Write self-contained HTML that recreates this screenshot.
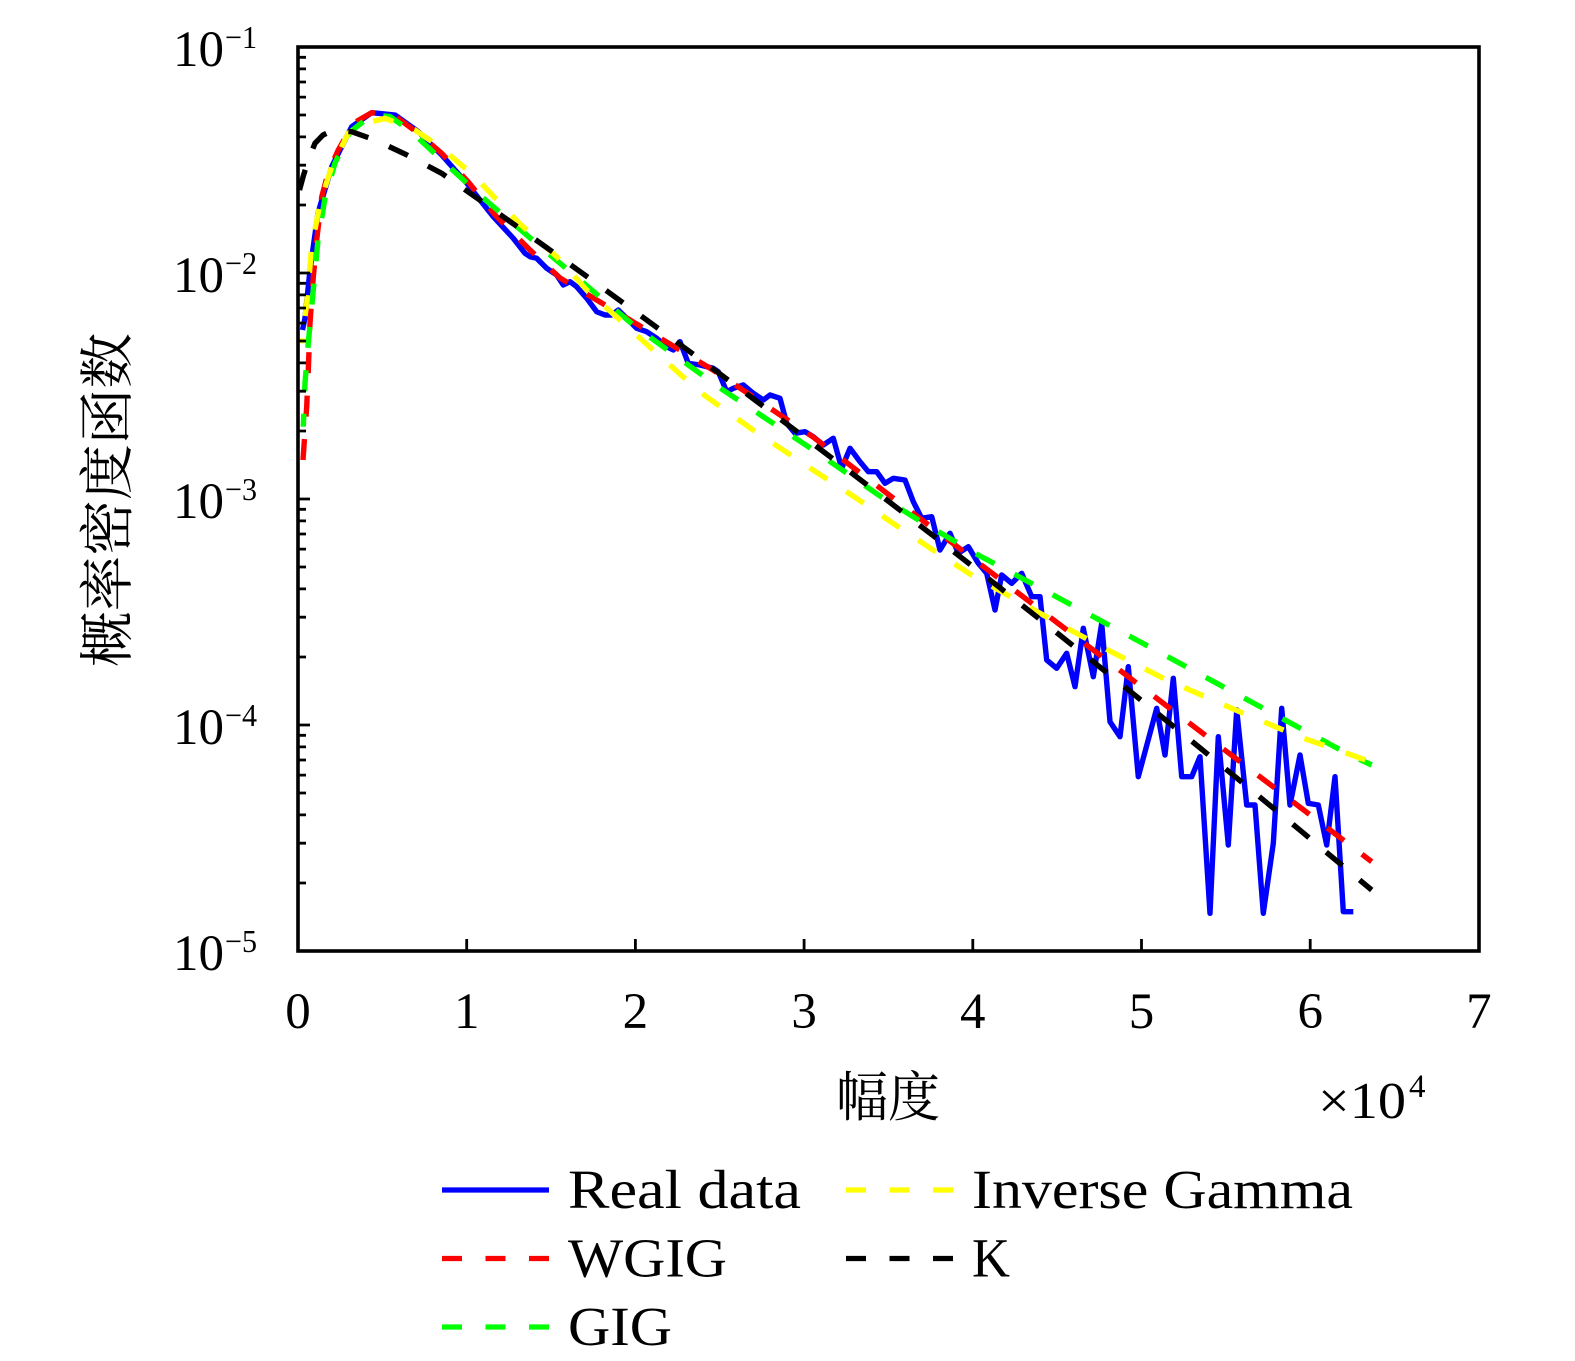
<!DOCTYPE html>
<html>
<head>
<meta charset="utf-8">
<style>
html,body{margin:0;padding:0;background:#fff;}
svg{display:block;}
text{font-family:"Liberation Serif","Noto Serif CJK SC",serif;fill:#000;}
.cjk{font-family:"Liberation Serif","Noto Serif CJK SC","Noto Sans CJK SC",serif;}
</style>
</head>
<body>
<svg width="1575" height="1361" viewBox="0 0 1575 1361" xmlns="http://www.w3.org/2000/svg">
<rect x="0" y="0" width="1575" height="1361" fill="#fff"/>

<!-- data series -->
<g fill="none" stroke-width="5.4">
<polyline stroke="#0000ff" stroke-linejoin="round" points="302.5,330 305,318 310,270 318,213 331.7,166.7 351.7,126.7 371.7,112.7 395,115 418.3,131.7 441.7,155 455,170 468.3,185 480,200 493.3,216.7 513.3,238.3 525,253.3 530,256.7 536.7,258.3 546.7,268.3 556.7,275 563.3,285 570,281.7 576.7,286.7 586.7,298.3 596.7,311.7 605,315 611.7,315 618.3,310 626.7,318.3 636.7,328.3 646.7,331.7 656.7,338.3 666.7,346.7 673.3,350 680,341.7 688.3,363.3 700,365 713.3,368.3 718.3,371.7 726.7,391.7 733.3,388.3 743.3,385 753.3,393.3 763.3,400 770,395 780,398.3 786.7,423.3 795,433.3 805,431.7 813.3,436.7 823.3,445 833.3,438.3 841.7,468.3 850,448.3 860,461.7 868.3,471.7 876.7,471.7 885,483.3 893.3,478.3 900,479.3 905,480 913.3,501.7 921.7,518.3 931.7,516.7 940,550 950,533.3 958.3,553.3 968.3,546.7 978.3,563.3 986.7,573.3 995,610 1001.7,575 1011.7,583.3 1021.7,573.3 1031.7,596.7 1040,596.7 1046.7,660 1056.7,668.3 1066.7,653.3 1075,686.7 1083.3,628.3 1093.3,676.7 1101.7,623.3 1110,721.7 1120,736.7 1128.3,666.7 1138.3,776.7 1156.7,708.3 1165,755 1173.3,678.3 1181.7,776.7 1191.7,776.7 1200,756.7 1210,913.3 1218.3,736.7 1228.3,845 1236.7,710 1246.7,805 1255,805 1263.3,913.3 1273.3,843.3 1281.7,708.3 1290,805 1300,755 1308.3,803.3 1318.3,805 1326.7,845 1335,776.7 1343.3,911.7 1353.3,911.7"/>

<polyline stroke="#ff0000" stroke-dasharray="21 22.5" points="303,460 306.7,406.7 308.3,370 310,323 313.3,277 316.7,240 321.7,197 328.3,172 338.3,150 353.3,123.3 371.7,112.7 395,116 418.3,133.3 441.7,153.3 468.3,182 495,215 530,250 560,278 630,320 713,370 813,437 906.7,508.3 950,541.2 1000,579.2 1060,624.8 1100,655.2 1150,693.2 1200,731.2 1250,769.2 1300,807.2 1350,845.2 1371.7,861.7"/>

<polyline stroke="#00ff00" stroke-dasharray="21 22.5" stroke-dashoffset="8" points="303.3,426.7 305,383 308.3,343 313.3,290 318,240 325,198 335,163 350,132 371.7,115 390,116.5 411.7,132 441.7,160 481.7,196.7 546.7,252 633.3,325 720,388 813.3,450 880,496 920,521 980,556 1000,566.4 1080,609.5 1150,647.2 1233,692 1300,728.1 1346.7,753.3 1371.7,765"/>

<polyline stroke="#ffff00" stroke-dasharray="21 22.5" stroke-dashoffset="16" points="301.7,343.3 306.7,303.3 311.7,246.7 320,203.3 331.7,166.7 348.3,133.3 365,123.3 385,118.3 415,130 441.7,148.3 475,176.7 495,198 520,224 556.7,256.7 586.7,290 620,320 653,350 700,392 753,430 813,470 853,496 900,528 933,550 970,574 1046.7,617 1100,646 1166.7,680 1243.3,713.3 1300,737 1371.7,762"/>

<polyline stroke="#000000" stroke-dasharray="21 22.5" points="299.5,190 303.3,176 308.3,160 315,143.3 323,135 331.7,131 351.7,131.7 375,140 405,154 441.7,173.3 480,200.2 520,228.6 560,257.2 600,286 650,322.4 700,359.2 750,396.3 800,433.9 850,471.8 900,510.1 950,548.7 1000,587.8 1050,627.3 1100,667.1 1150,707.3 1200,747.9 1250,788.9 1300,830.2 1350,872 1371.7,890"/>
</g>

<!-- axes box -->
<rect x="298" y="47" width="1181" height="904" fill="none" stroke="#000" stroke-width="3.6"/>

<!-- ticks -->
<g stroke="#000" stroke-width="2.8" fill="none">
<path d="M466.7,951V939 M635.4,951V939 M804.1,951V939 M972.8,951V939 M1141.5,951V939 M1310.2,951V939"/>
<path d="M298,273H310 M298,499H310 M298,725H310"/>
<path d="M298,205H306 M298,165.2H306 M298,136.9H306 M298,115H306 M298,97.1H306 M298,82H306 M298,68.9H306 M298,57.3H306
M298,431H306 M298,391.2H306 M298,362.9H306 M298,341H306 M298,323.1H306 M298,308H306 M298,294.9H306 M298,283.3H306
M298,657H306 M298,617.2H306 M298,588.9H306 M298,567H306 M298,549.1H306 M298,534H306 M298,520.9H306 M298,509.3H306
M298,883H306 M298,843.2H306 M298,814.9H306 M298,793H306 M298,775.1H306 M298,760H306 M298,746.9H306 M298,735.3H306"/>
</g>

<!-- y tick labels -->
<g font-size="51">
<text x="224" y="66" text-anchor="end">10</text>
<text x="224" y="292" text-anchor="end">10</text>
<text x="224" y="518" text-anchor="end">10</text>
<text x="224" y="744" text-anchor="end">10</text>
<text x="224" y="970" text-anchor="end">10</text>
</g>
<g font-size="32">
<text x="225" y="48" textLength="32" lengthAdjust="spacingAndGlyphs">−1</text>
<text x="225" y="274" textLength="32" lengthAdjust="spacingAndGlyphs">−2</text>
<text x="225" y="500" textLength="32" lengthAdjust="spacingAndGlyphs">−3</text>
<text x="225" y="726" textLength="32" lengthAdjust="spacingAndGlyphs">−4</text>
<text x="225" y="952" textLength="32" lengthAdjust="spacingAndGlyphs">−5</text>
</g>

<!-- x tick labels -->
<g font-size="51" text-anchor="middle">
<text x="298" y="1028">0</text>
<text x="466.7" y="1028">1</text>
<text x="635.4" y="1028">2</text>
<text x="804.1" y="1028">3</text>
<text x="972.8" y="1028">4</text>
<text x="1141.5" y="1028">5</text>
<text x="1310.2" y="1028">6</text>
<text x="1478.9" y="1028">7</text>
</g>

<!-- multiplier -->
<text x="1318" y="1118" font-size="52" textLength="88" lengthAdjust="spacingAndGlyphs">×10</text>
<text x="1409" y="1097" font-size="33">4</text>

<!-- axis labels -->
<text class="cjk" x="888" y="1098" font-size="54" text-anchor="middle" dominant-baseline="central" textLength="104" lengthAdjust="spacingAndGlyphs">幅度</text>
<text class="cjk" transform="translate(108,500) rotate(-90)" font-size="55" text-anchor="middle" dominant-baseline="central" textLength="334" lengthAdjust="spacingAndGlyphs">概率密度函数</text>

<!-- legend -->
<g fill="none" stroke-width="5.2">
<line x1="442" y1="1190" x2="549" y2="1190" stroke="#0000ff"/>
<line x1="442" y1="1258.5" x2="549" y2="1258.5" stroke="#ff0000" stroke-dasharray="20 23.5"/>
<line x1="442" y1="1327" x2="549" y2="1327" stroke="#00ff00" stroke-dasharray="20 23.5"/>
<line x1="846" y1="1190" x2="953" y2="1190" stroke="#ffff00" stroke-dasharray="20 23.5"/>
<line x1="846" y1="1258.5" x2="953" y2="1258.5" stroke="#000000" stroke-dasharray="20 23.5"/>
</g>
<g font-size="55">
<text x="568" y="1208" textLength="233" lengthAdjust="spacingAndGlyphs">Real data</text>
<text x="568" y="1276.5" textLength="159" lengthAdjust="spacingAndGlyphs">WGIG</text>
<text x="568" y="1345" textLength="104" lengthAdjust="spacingAndGlyphs">GIG</text>
<text x="972" y="1208" textLength="381" lengthAdjust="spacingAndGlyphs">Inverse Gamma</text>
<text x="972" y="1276.5" textLength="38" lengthAdjust="spacingAndGlyphs">K</text>
</g>
</svg>
</body>
</html>
